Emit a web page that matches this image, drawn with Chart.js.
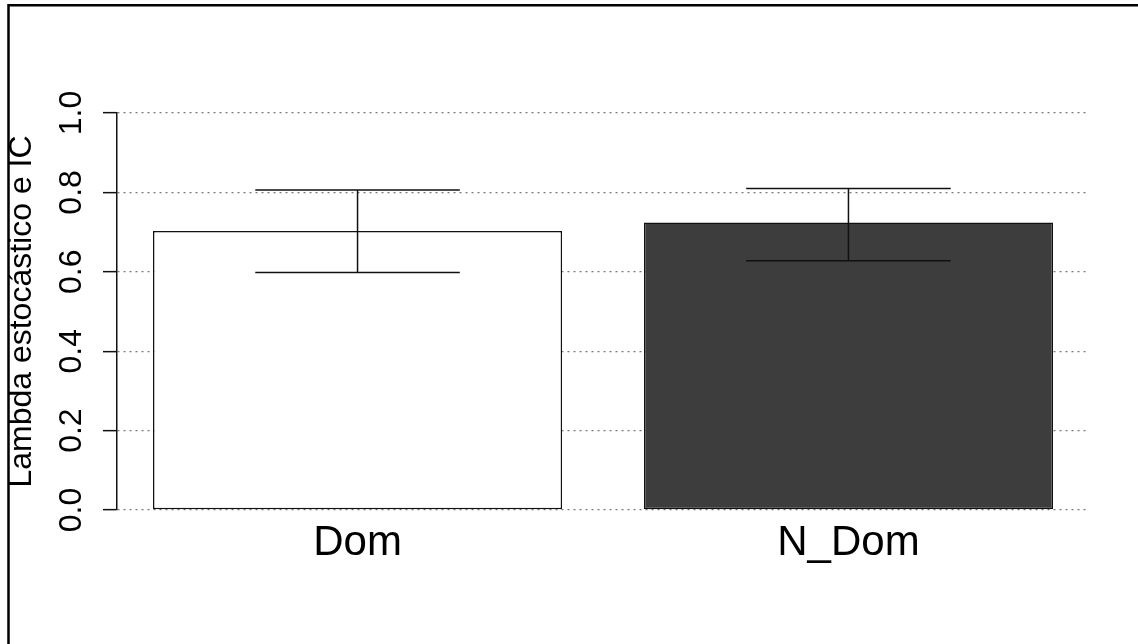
<!DOCTYPE html>
<html>
<head>
<meta charset="utf-8">
<title>Lambda estocástico e IC</title>
<script src="https://cdn.jsdelivr.net/npm/chart.js@4.4.1/dist/chart.umd.min.js"></script>
<style>
  html, body { margin: 0; padding: 0; background: #ffffff; }
  #wrap { width: 1138px; height: 644px; }
</style>
</head>
<body>
<div id="wrap"><canvas id="chart" width="1138" height="644"></canvas></div>
<script>
// Groups, stochastic lambda estimates and their confidence limits
const categories = ['Dom', 'N_Dom'];
const lambdaMean = [0.703, 0.724];
const ciLower = [0.598, 0.628];
const ciUpper = [0.806, 0.810];
const yTicks = [0.0, 0.2, 0.4, 0.6, 0.8, 1.0];
const barFills = ['#ffffff', '#3d3d3d'];

const FONT = "'Liberation Sans', Arial, Helvetica, sans-serif";

// Bar layout in axis units: width 1, gap 0.2 before each bar, 4% padding on the x range
const barWidth = 1, barSpace = 0.2;
const centers = categories.map((_, i) => barSpace + i * (barWidth + barSpace) + barWidth / 2);
const xLo = barSpace, xHi = categories.length * (barWidth + barSpace);
const xPad = (xHi - xLo) * 0.04;

const points = categories.map((_, i) => ({ x: centers[i], y: lambdaMean[i] }));

// Outer frame along the top and left edges
const framePlugin = {
  id: 'frame',
  beforeDraw(chart) {
    const ctx = chart.ctx;
    ctx.save();
    ctx.fillStyle = '#ffffff';
    ctx.fillRect(0, 0, chart.width, chart.height);
    ctx.strokeStyle = '#000000';
    ctx.lineWidth = 2.5;
    ctx.beginPath();
    ctx.moveTo(8.5, chart.height);
    ctx.lineTo(8.5, 5.3);
    ctx.lineTo(chart.width, 5.3);
    ctx.stroke();
    ctx.restore();
  }
};

// Confidence interval whiskers over each bar
const ciPlugin = {
  id: 'ciBars',
  afterDatasetsDraw(chart) {
    const ctx = chart.ctx;
    const yScale = chart.scales.y;
    const meta = chart.getDatasetMeta(0);
    ctx.save();
    ctx.strokeStyle = '#111111';
    ctx.lineWidth = 1.5;
    meta.data.forEach((bar, i) => {
      const x = bar.x;
      const half = bar.width / 4;
      const yTop = yScale.getPixelForValue(ciUpper[i]);
      const yBot = yScale.getPixelForValue(ciLower[i]);
      ctx.beginPath();
      ctx.moveTo(x, yTop); ctx.lineTo(x, yBot);
      ctx.moveTo(x - half, yTop); ctx.lineTo(x + half, yTop);
      ctx.moveTo(x - half, yBot); ctx.lineTo(x + half, yBot);
      ctx.stroke();
    });
    ctx.restore();
  }
};

new Chart(document.getElementById('chart'), {
  type: 'bar',
  data: {
    datasets: [{
      data: points,
      backgroundColor: barFills,
      borderColor: '#111111',
      borderWidth: 1.5,
      borderSkipped: false,
      categoryPercentage: 1,
      barPercentage: barWidth / (barWidth + barSpace)
    }]
  },
  options: {
    responsive: false,
    animation: false,
    events: [],
    layout: { padding: { top: 113, right: 49, left: 0, bottom: 0 } },
    plugins: { legend: { display: false }, tooltip: { enabled: false } },
    scales: {
      x: {
        type: 'linear',
        min: xLo - xPad,
        max: xHi + xPad,
        offset: false,
        afterBuildTicks(scale) { scale.ticks = centers.map(v => ({ value: v })); },
        afterFit(scale) { scale.height = 134; },
        grid: { display: false, drawTicks: false, offset: false },
        border: { display: false },
        ticks: {
          autoSkip: false,
          maxRotation: 0,
          padding: 8,
          color: '#000000',
          font: { family: FONT, size: 42 },
          callback(value) {
            const idx = centers.findIndex(c => Math.abs(c - value) < 1e-6);
            return idx >= 0 ? categories[idx] : '';
          }
        }
      },
      y: {
        type: 'linear',
        min: 0,
        max: 1,
        afterBuildTicks(scale) { scale.ticks = yTicks.map(v => ({ value: v })); },
        afterFit(scale) { scale.width = 117; },
        border: { display: true, color: '#111111', width: 1.5, dash: [2, 4] },
        grid: {
          color: '#7a7a7a',
          lineWidth: 1.3,
          drawTicks: true,
          tickLength: 14,
          tickColor: '#111111',
          tickWidth: 1.5,
          tickBorderDash: []
        },
        ticks: {
          minRotation: 90,
          maxRotation: 90,
          crossAlign: 'center',
          padding: 9,
          color: '#000000',
          font: { family: FONT, size: 32 },
          callback(value) { return value.toFixed(1); }
        },
        title: {
          display: true,
          text: 'Lambda estocástico e IC',
          color: '#000000',
          font: { family: FONT, size: 32 },
          padding: { top: 3, bottom: 0 }
        }
      }
    }
  },
  plugins: [framePlugin, ciPlugin]
});
</script>
</body>
</html>
